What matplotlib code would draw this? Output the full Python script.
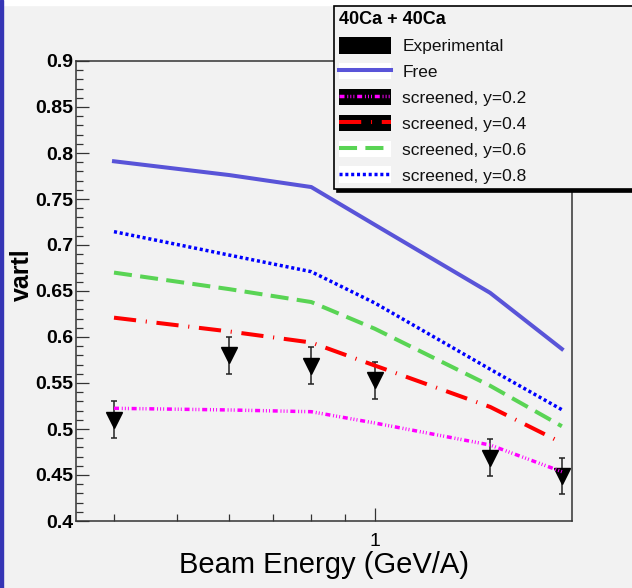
import matplotlib
matplotlib.use('Agg')
import matplotlib.pyplot as plt
from matplotlib.patches import Patch, Rectangle
from matplotlib.lines import Line2D
from matplotlib.ticker import FixedLocator, MultipleLocator, FormatStrFormatter, NullFormatter

plt.rcParams['font.family'] = ['Liberation Sans', 'DejaVu Sans']
plt.rcParams['lines.scale_dashes'] = False

BG = '#f2f2f2'

# beam energies (GeV/A) and measured values
energy   = [0.4, 0.6, 0.8, 1.0, 1.5, 1.93]
exp_val  = [0.510, 0.580, 0.569, 0.553, 0.469, 0.449]
exp_err  = [0.020, 0.020, 0.020, 0.020, 0.020, 0.020]

# model curves
free_val = [0.791, 0.776, 0.763, 0.722, 0.648, 0.587]
scr_02   = [0.5225, 0.5207, 0.5188, 0.5065, 0.4826, 0.4536]
scr_04   = [0.621, 0.606, 0.594, 0.569, 0.524, 0.485]
scr_06   = [0.670, 0.652, 0.638, 0.609, 0.547, 0.503]
scr_08   = [0.7145, 0.689, 0.671, 0.637, 0.565, 0.521]

curves = [
    ('Free',              free_val, dict(color='#5954d8', lw=2.9)),
    ('screened, y=0.2',   scr_02,   dict(color='#ff00ff', lw=2.5,
                                         dashes=[3.6, 2, 0.7, 1.5, 0.7, 1.5, 0.7, 2])),
    ('screened, y=0.4',   scr_04,   dict(color='#ff0000', lw=2.9, dashes=[16, 7, 0.8, 7])),
    ('screened, y=0.6',   scr_06,   dict(color='#59d454', lw=2.9, dashes=[13, 6])),
    ('screened, y=0.8',   scr_08,   dict(color='#0000ff', lw=2.5, dashes=[2.2, 2.0])),
]
swatch_bg = {'Free': 'white', 'screened, y=0.2': 'black', 'screened, y=0.4': 'black',
             'screened, y=0.6': 'white', 'screened, y=0.8': 'white'}

fig = plt.figure(figsize=(6.32, 5.88), dpi=100)
fig.patch.set_facecolor(BG)
fig.add_artist(Rectangle((0, 1 - 5/588), 1, 5/588, transform=fig.transFigure,
                         color='white', zorder=0))
fig.add_artist(Rectangle((0, 0), 3/632, 1, transform=fig.transFigure,
                         color='#3535b5', zorder=0))

ax = fig.add_axes([76/632, 1 - 521/588, 496/632, 460/588])
ax.set_facecolor(BG)

ax.errorbar(energy, exp_val, yerr=exp_err, fmt='v', color='black', ms=12,
            ecolor='#222222', elinewidth=1.1, capsize=2.2, capthick=1.1, zorder=2)

for name, vals, style in curves:
    ax.plot(energy, vals, zorder=3, **style)

ax.set_xscale('log')
ax.set_xlim(0.35, 2.0)
ax.set_ylim(0.4, 0.9)

ax.xaxis.set_major_locator(FixedLocator([1.0]))
ax.xaxis.set_minor_locator(FixedLocator([0.4, 0.5, 0.6, 0.7, 0.8, 0.9]))
ax.xaxis.set_major_formatter(FormatStrFormatter('%g'))
ax.xaxis.set_minor_formatter(NullFormatter())
ax.yaxis.set_major_locator(MultipleLocator(0.05))
ax.yaxis.set_minor_locator(MultipleLocator(0.01))
ax.yaxis.set_major_formatter(FormatStrFormatter('%g'))

ax.tick_params(which='both', direction='in', color='#333333', width=0.9,
               top=False, right=False)
ax.tick_params(which='major', length=9.5)
ax.tick_params(which='minor', length=5)
ax.tick_params(axis='y', which='major', pad=2, labelsize=14)
ax.tick_params(axis='x', which='major', pad=9, labelsize=14)
for lbl in ax.get_yticklabels():
    lbl.set_fontweight('bold')

for sp in ax.spines.values():
    sp.set_linewidth(1.1)
    sp.set_color('#333333')

ax.set_xlabel('Beam Energy (GeV/A)', fontsize=21)
ax.xaxis.set_label_coords(0.5, -0.065)
ax.set_ylabel('vartl', fontsize=18, fontweight='bold')
ax.yaxis.label.set_va('center')
ax.yaxis.set_label_coords(-0.11, 0.535)

# legend: swatch backgrounds overlaid with the line styles
handles = [Patch(facecolor='black', edgecolor='none')]
labels = ['Experimental']
for name, vals, style in curves:
    handles.append((Patch(facecolor=swatch_bg[name], edgecolor='none'), Line2D([], [], **style)))
    labels.append(name)

leg = fig.legend(handles, labels, loc='upper left',
                 bbox_to_anchor=(334/632, 1 - 6/588, 0.6, 0), mode='expand',
                 borderaxespad=0, fontsize=12.5, title='40Ca + 40Ca',
                 title_fontproperties={'weight': 'bold', 'size': 13},
                 alignment='left', handlelength=3.0, handleheight=1.1,
                 handletextpad=0.63, labelspacing=0.5, borderpad=0.3,
                 fancybox=False, framealpha=1, facecolor=BG, edgecolor='black',
                 shadow={'ox': 2.2, 'oy': -2.2, 'color': 'black', 'alpha': 1})
leg.get_frame().set_linewidth(1.2)
for t in leg.get_texts():
    t.set_color('#111111')

fig.savefig('out.png', dpi=100, facecolor=BG)
